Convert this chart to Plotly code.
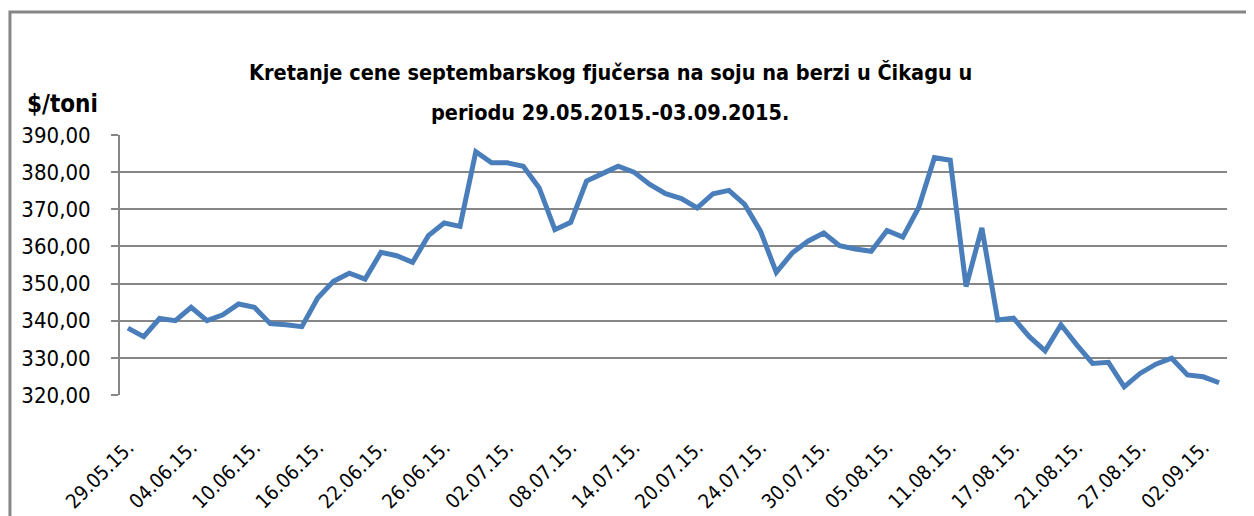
import plotly.graph_objects as go

dates = [
    "29.05.15.",
    "01.06.15.", "02.06.15.", "03.06.15.", "04.06.15.", "05.06.15.", "08.06.15.", "09.06.15.",
    "10.06.15.", "11.06.15.", "12.06.15.", "15.06.15.", "16.06.15.", "17.06.15.", "18.06.15.",
    "19.06.15.", "22.06.15.", "23.06.15.", "24.06.15.", "25.06.15.", "26.06.15.", "29.06.15.",
    "30.06.15.",
    "01.07.15.", "02.07.15.", "03.07.15.", "06.07.15.", "07.07.15.", "08.07.15.", "09.07.15.",
    "10.07.15.", "13.07.15.", "14.07.15.", "15.07.15.", "16.07.15.", "17.07.15.", "20.07.15.",
    "21.07.15.", "22.07.15.", "23.07.15.", "24.07.15.", "27.07.15.", "28.07.15.", "29.07.15.",
    "30.07.15.", "31.07.15.",
    "03.08.15.", "04.08.15.", "05.08.15.", "06.08.15.", "07.08.15.", "10.08.15.", "11.08.15.",
    "12.08.15.", "13.08.15.", "14.08.15.", "17.08.15.", "18.08.15.", "19.08.15.", "20.08.15.",
    "21.08.15.", "24.08.15.", "25.08.15.", "26.08.15.", "27.08.15.", "28.08.15.", "31.08.15.",
    "01.09.15.", "02.09.15.", "03.09.15.",
]

prices = [
    338.0, 335.7, 340.6, 340.0, 343.6, 340.0, 341.6, 344.5, 343.6, 339.2,
    338.9, 338.4, 346.1, 350.6, 352.8, 351.2, 358.4, 357.5, 355.7, 362.9,
    366.3, 365.4, 385.5, 382.5, 382.5, 381.6, 375.8, 364.5, 366.5, 377.6,
    379.6, 381.6, 380.0, 376.7, 374.2, 372.9, 370.4, 374.2, 375.1, 371.3,
    364.1, 353.0, 358.2, 361.4, 363.6, 360.2, 359.3, 358.7, 364.3, 362.5,
    370.4, 383.9, 383.2, 349.2, 365.0, 340.2, 340.7, 335.7, 331.9, 338.9,
    333.5, 328.5, 328.8, 322.2, 325.8, 328.3, 329.9, 325.4, 324.9, 323.3,
]

tick_labels = [
    "29.05.15.", "04.06.15.", "10.06.15.", "16.06.15.", "22.06.15.", "26.06.15.",
    "02.07.15.", "08.07.15.", "14.07.15.", "20.07.15.", "24.07.15.", "30.07.15.",
    "05.08.15.", "11.08.15.", "17.08.15.", "21.08.15.", "27.08.15.", "02.09.15.",
]

y_ticks = [320, 330, 340, 350, 360, 370, 380, 390]

title_line1 = "Kretanje cene septembarskog fjučersa na soju na berzi u Čikagu u"
title_line2 = "periodu 29.05.2015.-03.09.2015."
y_unit = "$/toni"

FONT = "Liberation Sans Narrow, Arial Narrow, DejaVu Sans Condensed, sans-serif"
GRID = "#868686"

fig = go.Figure()
fig.add_trace(go.Scatter(
    x=dates, y=prices, mode="lines",
    line=dict(color="#4a7ebb", width=5),
    hoverinfo="x+y", showlegend=False,
))

fig.update_layout(
    width=1246, height=508,
    margin=dict(l=112, r=27, t=127, b=121, autoexpand=False),
    paper_bgcolor="white", plot_bgcolor="white",
    separators=", ",
    font=dict(family=FONT, color="black"),
    xaxis=dict(
        type="category",
        categoryorder="array", categoryarray=dates,
        range=[-0.5, len(dates) - 0.5],
        tickmode="array", tickvals=tick_labels, ticktext=tick_labels,
        tickangle=-45, tickfont=dict(size=20, family=FONT),
        ticklabelstandoff=36, automargin=False,
        showgrid=False, showline=False, ticks="", zeroline=False,
    ),
    yaxis=dict(
        range=[320, 390], tickvals=y_ticks, tickformat=".2f",
        tickfont=dict(size=22, family=FONT),
        showgrid=True, gridcolor=GRID, gridwidth=2,
        showline=True, linecolor=GRID, linewidth=2,
        ticks="outside", ticklen=7, tickcolor=GRID, tickwidth=2,
        ticklabelstandoff=16, zeroline=False, automargin=False,
    ),
    shapes=[dict(
        type="rect", xref="paper", yref="paper",
        x0=-0.0994, x1=1.05, y0=-0.6, y1=1.473,
        line=dict(color=GRID, width=3), fillcolor="rgba(0,0,0,0)", layer="below",
    )],
    annotations=[
        dict(text="<b>" + title_line1 + "</b>", xref="paper", yref="paper",
             x=0.443, y=1.242, xanchor="center", yanchor="middle", showarrow=False,
             font=dict(size=21.5, family=FONT, color="black")),
        dict(text="<b>" + title_line2 + "</b>", xref="paper", yref="paper",
             x=0.443, y=1.088, xanchor="center", yanchor="middle", showarrow=False,
             font=dict(size=21.5, family=FONT, color="black")),
        dict(text="<b>" + y_unit + "</b>", xref="paper", yref="paper",
             x=-0.086, y=1.119, xanchor="left", yanchor="middle", showarrow=False,
             font=dict(size=24, family=FONT, color="black")),
    ],
)

fig.write_html("out.html")
